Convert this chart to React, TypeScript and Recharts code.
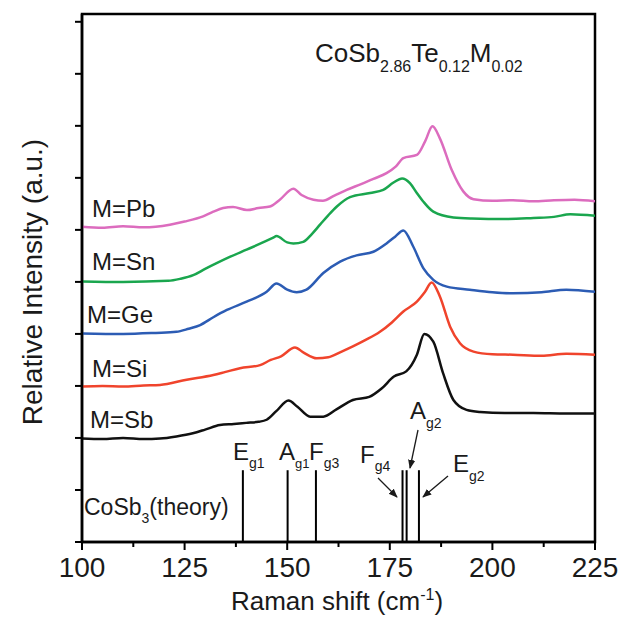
import { LineChart, Line, XAxis, YAxis, ReferenceLine, ReferenceArea } from "recharts"

// Raman spectra, offset vertically (a.u.)
const shiftSb = [100, 105, 110, 115, 119, 123, 127, 130, 133.6, 137, 140, 143, 145, 147.4, 150.3, 152.5, 155.6, 158.8, 162, 166, 170, 173, 176, 179, 181.6, 183.4, 185.6, 188, 190.5, 193.7, 197, 203, 210, 218, 225]
const intensitySb = [1.99, 1.98, 2.0, 1.98, 1.99, 2.03, 2.09, 2.16, 2.25, 2.27, 2.29, 2.31, 2.35, 2.52, 2.72, 2.6, 2.41, 2.41, 2.55, 2.73, 2.79, 2.95, 3.18, 3.28, 3.6, 4.0, 3.85, 3.24, 2.73, 2.54, 2.5, 2.48, 2.48, 2.47, 2.47]

const shiftSi = [100, 105, 110, 115, 119, 125.5, 132, 135, 138.5, 143.4, 146, 148.5, 151.9, 154, 157.2, 160, 163, 166, 169, 172.6, 175.5, 178.3, 181.6, 183.5, 185.2, 187.2, 189.7, 192.1, 195.4, 200, 205, 212, 218, 225]
const intensitySi = [2.99, 3.0, 2.99, 3.01, 3.02, 3.12, 3.21, 3.27, 3.34, 3.4, 3.5, 3.57, 3.74, 3.64, 3.53, 3.55, 3.65, 3.76, 3.88, 4.04, 4.22, 4.43, 4.62, 4.8, 4.99, 4.72, 4.14, 3.82, 3.66, 3.61, 3.6, 3.58, 3.62, 3.6]

const shiftGe = [100, 110, 118, 123, 126, 128.8, 132, 135.3, 140.1, 145, 147.4, 150, 152.3, 154.7, 158.8, 162.9, 166.9, 171, 174.2, 176.3, 178.3, 180.7, 183.2, 185.6, 188.9, 194.5, 200, 205, 212, 218, 225]
const intensityGe = [4.01, 4.0, 4.02, 4.04, 4.1, 4.17, 4.32, 4.46, 4.62, 4.81, 4.97, 4.85, 4.8, 4.85, 5.17, 5.39, 5.51, 5.58, 5.74, 5.87, 5.99, 5.68, 5.26, 5.04, 4.91, 4.85, 4.8, 4.78, 4.8, 4.85, 4.81]

const shiftSn = [100, 110, 121, 124, 127.1, 130, 132.8, 136, 140.1, 143, 146.6, 147.4, 150, 151.5, 153.9, 156, 158, 160, 162.1, 165.3, 170.2, 173.4, 175.9, 178, 179.9, 181.5, 183.2, 185.6, 190.5, 195, 203, 210, 215, 219, 225]
const intensitySn = [5.01, 5.0, 5.02, 5.06, 5.13, 5.25, 5.36, 5.48, 5.62, 5.72, 5.85, 5.88, 5.76, 5.74, 5.77, 5.92, 6.1, 6.28, 6.45, 6.63, 6.71, 6.77, 6.91, 6.99, 6.9, 6.72, 6.54, 6.35, 6.24, 6.22, 6.21, 6.23, 6.25, 6.3, 6.27]

const shiftPb = [100, 105, 110, 115, 121.4, 125, 129.5, 132, 134.4, 136.8, 140.2, 143, 145.8, 148.2, 151.5, 153.5, 156.4, 158.7, 161.5, 164.5, 168, 171, 174.2, 176.5, 178.3, 181.6, 183.6, 185.4, 187.2, 190.1, 192.9, 195.4, 200, 205, 210, 215, 220, 225]
const intensityPb = [6.06, 6.04, 6.07, 6.05, 6.1, 6.16, 6.26, 6.35, 6.42, 6.44, 6.38, 6.42, 6.45, 6.58, 6.79, 6.67, 6.58, 6.56, 6.66, 6.77, 6.88, 6.98, 7.09, 7.22, 7.38, 7.44, 7.7, 7.99, 7.76, 7.15, 6.74, 6.59, 6.56, 6.57, 6.55, 6.57, 6.58, 6.55]

// theoretical CoSb3 Raman modes
const modeShift = [139.2, 150.1, 157, 178.1, 179.1, 182.1]
const modeHeight = 1.38

const xTicks = [100, 112.5, 125, 137.5, 150, 162.5, 175, 187.5, 200, 212.5, 225]
const yTicks = [0, 1, 2, 3, 4, 5, 6, 7, 8, 9, 10]

const series = [
  { name: "Sb", shift: shiftSb, intensity: intensitySb, color: "#111111" },
  { name: "Si", shift: shiftSi, intensity: intensitySi, color: "#f0442c" },
  { name: "Ge", shift: shiftGe, intensity: intensityGe, color: "#2c5cb4" },
  { name: "Sn", shift: shiftSn, intensity: intensitySn, color: "#1aa64e" },
  { name: "Pb", shift: shiftPb, intensity: intensityPb, color: "#dc6cbe" },
]

const FONT = "'Liberation Sans', Arial, Helvetica, sans-serif"

function toPoints(xs: number[], ys: number[]) {
  return xs.map((x, i) => ({ x, y: ys[i] }))
}

function ShiftTick(props: any) {
  const { x, y, payload } = props
  const major = payload.value % 25 === 0
  return (
    <g>
      <line x1={x} x2={x} y1={y} y2={y + (major ? 8 : 5)} stroke="#000" strokeWidth={2} />
      {major && (
        <text x={x} y={y + 35} textAnchor="middle" fontSize={28} fontFamily={FONT} fill="#1a1a1a">
          {payload.value}
        </text>
      )}
    </g>
  )
}

function Sub({ base, sub, x, y, size = 24, subSize = 14, drop = 8 }: any) {
  return (
    <text x={x} y={y} fontSize={size} fontFamily={FONT} fill="#1a1a1a">
      {base}
      <tspan dy={drop} fontSize={subSize}>{sub}</tspan>
    </text>
  )
}

export default function App() {
  return (
    <div style={{ position: "relative", width: 626, height: 628, background: "#fff" }}>
      <style>{"body{margin:0}"}</style>
      <LineChart width={626} height={628} margin={{ top: 14, right: 31, bottom: 46, left: 72 }}>
        <XAxis
          type="number"
          dataKey="x"
          domain={[100, 225]}
          ticks={xTicks}
          interval={0}
          height={40}
          tickSize={0}
          tickMargin={0}
          tickLine={false}
          tick={<ShiftTick />}
          axisLine={{ stroke: "#000", strokeWidth: 2.5 }}
          allowDataOverflow
        />
        <YAxis
          type="number"
          domain={[0, 10.15]}
          ticks={yTicks}
          interval={0}
          width={10}
          tickSize={7}
          tick={() => <g />}
          tickLine={{ stroke: "#000", strokeWidth: 2 }}
          axisLine={{ stroke: "#000", strokeWidth: 2.5 }}
          allowDataOverflow
        />
        <ReferenceArea
          x1={100}
          x2={225}
          y1={0}
          y2={10.15}
          fill="none"
          stroke="#000"
          strokeWidth={2.5}
          ifOverflow="visible"
        />
        {modeShift.map((s, i) => (
          <ReferenceLine
            key={i}
            segment={[
              { x: s, y: 0 },
              { x: s, y: modeHeight },
            ]}
            stroke="#000"
            strokeWidth={2}
          />
        ))}
        {series.map((s) => (
          <Line
            key={s.name}
            data={toPoints(s.shift, s.intensity)}
            dataKey="y"
            type="monotone"
            stroke={s.color}
            strokeWidth={2.5}
            dot={false}
            isAnimationActive={false}
          />
        ))}
      </LineChart>

      <svg
        width={626}
        height={628}
        style={{ position: "absolute", left: 0, top: 0, pointerEvents: "none" }}
      >
        <defs>
          <marker id="ah" viewBox="0 0 10 10" refX="9" refY="5" markerWidth="7" markerHeight="7" orient="auto">
            <path d="M0,1 L10,5 L0,9 z" fill="#1a1a1a" />
          </marker>
        </defs>

        <text x={315} y={62} fontSize={26} fontFamily={FONT} fill="#1a1a1a">
          CoSb
          <tspan dy={10} fontSize={16}>2.86</tspan>
          <tspan dy={-10}>Te</tspan>
          <tspan dy={10} fontSize={16}>0.12</tspan>
          <tspan dy={-10}>M</tspan>
          <tspan dy={10} fontSize={16}>0.02</tspan>
        </text>

        <text x={92} y={217} fontSize={24} fontFamily={FONT} fill="#1a1a1a">M=Pb</text>
        <text x={92} y={270} fontSize={24} fontFamily={FONT} fill="#1a1a1a">M=Sn</text>
        <text x={87} y={323} fontSize={24} fontFamily={FONT} fill="#1a1a1a">M=Ge</text>
        <text x={92} y={377} fontSize={24} fontFamily={FONT} fill="#1a1a1a">M=Si</text>
        <text x={90} y={428} fontSize={24} fontFamily={FONT} fill="#1a1a1a">M=Sb</text>

        <text x={84} y={515} fontSize={23} fontFamily={FONT} fill="#1a1a1a">
          CoSb
          <tspan dy={8} fontSize={14}>3</tspan>
          <tspan dy={-8}>(theory)</tspan>
        </text>

        <Sub base="E" sub="g1" x={233} y={460} />
        <Sub base="A" sub="g1" x={279} y={460} subSize={13} />
        <Sub base="F" sub="g3" x={309} y={460} />
        <Sub base="F" sub="g4" x={360} y={463} />
        <Sub base="A" sub="g2" x={410} y={419} drop={9} />
        <Sub base="E" sub="g2" x={453} y={472} drop={9} />

        <line x1={378} y1={478} x2={397} y2={497} stroke="#1a1a1a" strokeWidth={1.3} markerEnd="url(#ah)" />
        <line x1={418} y1={430} x2={410} y2={468} stroke="#1a1a1a" strokeWidth={1.3} markerEnd="url(#ah)" />
        <line x1={448} y1={476} x2={423} y2={497} stroke="#1a1a1a" strokeWidth={1.3} markerEnd="url(#ah)" />

        <text x={337} y={610} textAnchor="middle" fontSize={26} fontFamily={FONT} fill="#1a1a1a">
          Raman shift (cm
          <tspan dy={-10} fontSize={16}>-1</tspan>
          <tspan dy={10}>)</tspan>
        </text>

        <text
          x={0}
          y={0}
          transform="translate(42 282) rotate(-90)"
          textAnchor="middle"
          fontSize={28}
          fontFamily={FONT}
          fill="#1a1a1a"
        >
          Relative Intensity (a.u.)
        </text>
      </svg>
    </div>
  )
}
